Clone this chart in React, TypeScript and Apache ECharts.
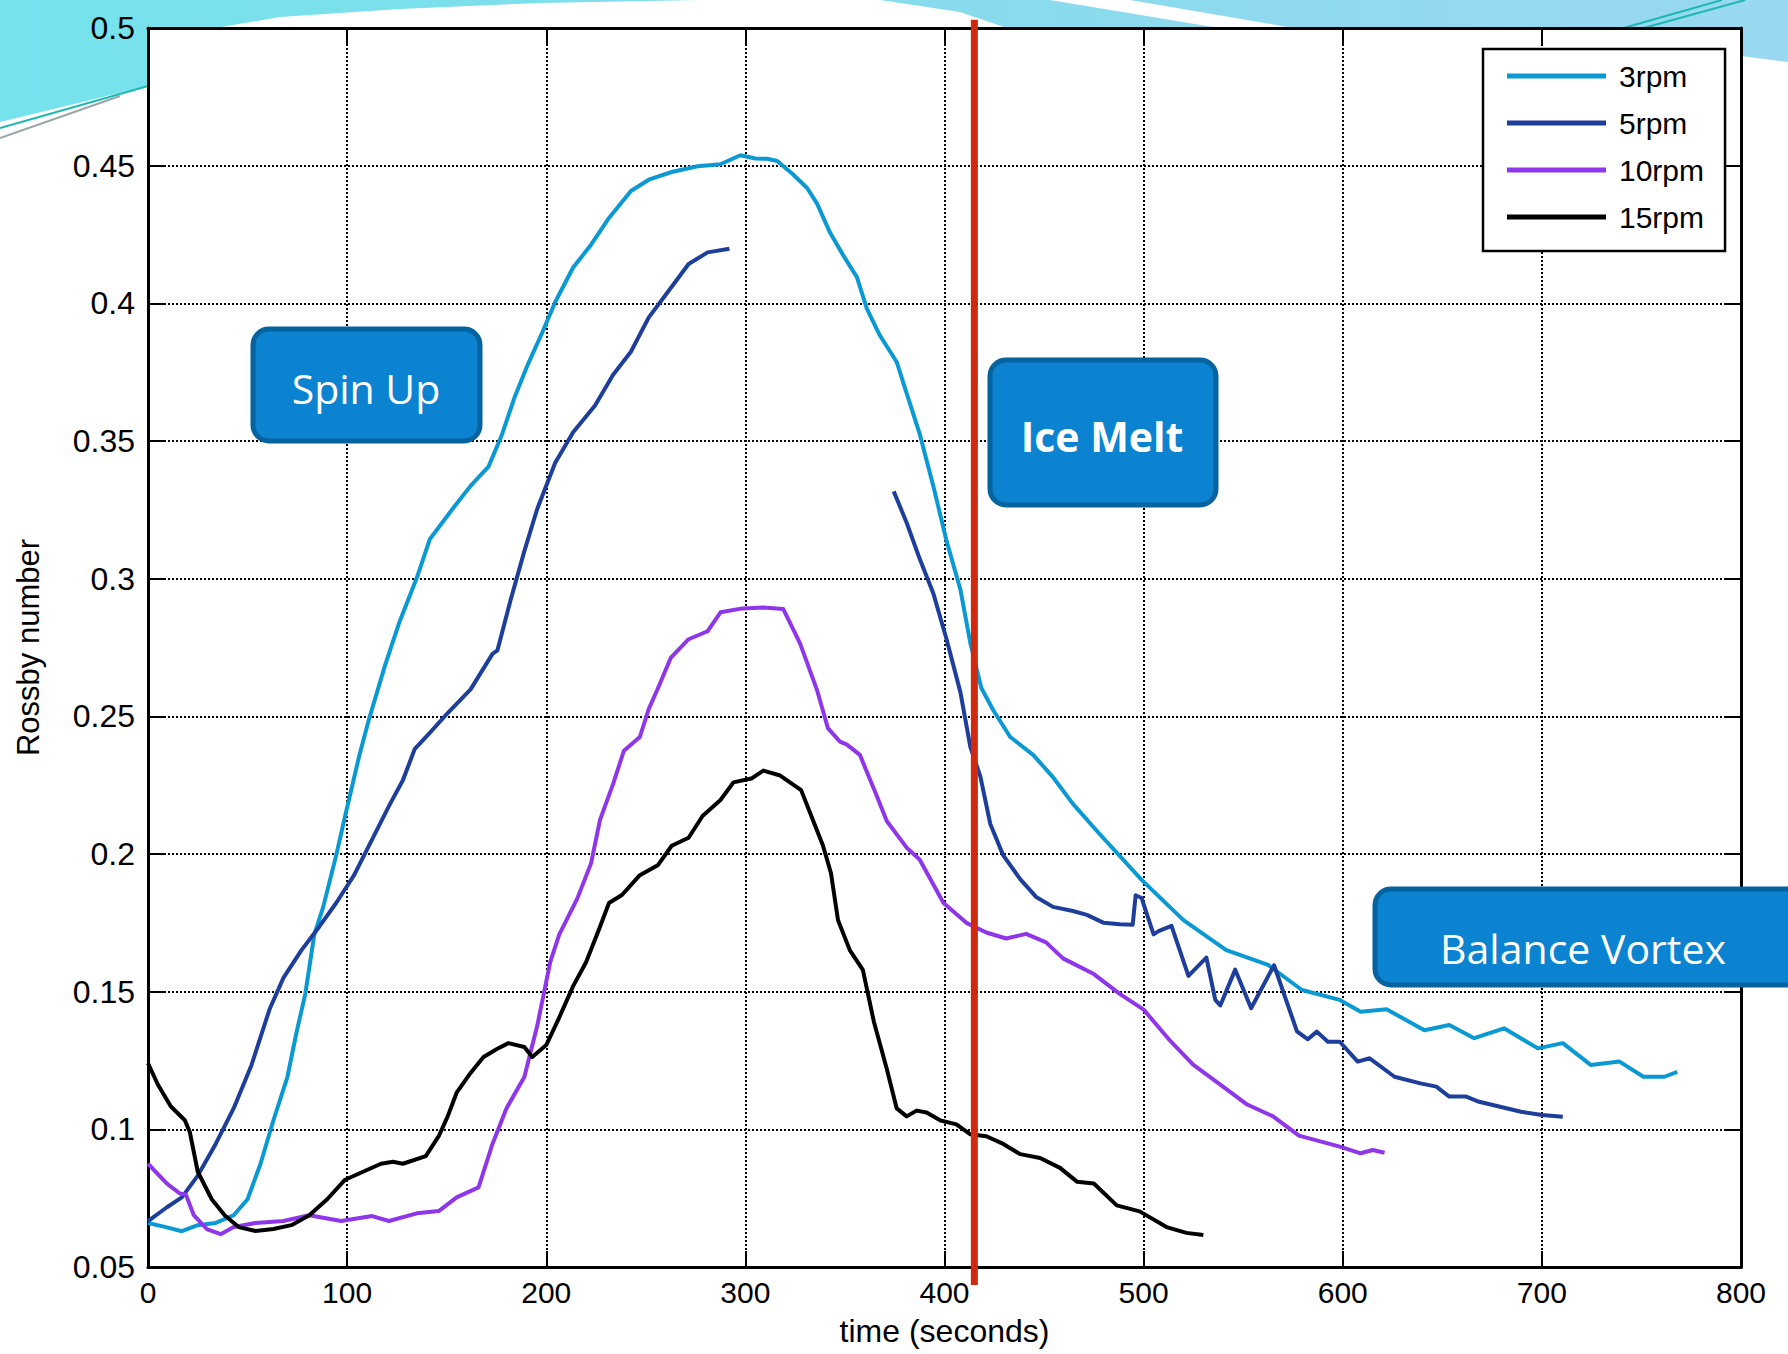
import React, { useEffect, useRef } from "react";
import * as echarts from "echarts";

const seriesNames = ["3rpm", "5rpm", "10rpm", "15rpm"];
const xTickValues = [0, 100, 200, 300, 400, 500, 600, 700, 800];
const iceMeltTime = 415;
const iceMeltSpan = [0.0435, 0.503];

const t3 = [0, 9, 17, 25, 34, 43, 50, 56.5, 63, 70, 74.5, 79, 83.5, 88, 94.5, 99, 106, 111, 119, 126, 135, 141.5, 153, 162, 171, 177.5, 184, 191, 198, 204.5, 213.5, 222.5, 231.5, 242.5, 251.5, 263, 276, 287.5, 297.5, 305, 311, 316, 324, 331, 336, 342.5, 349, 356, 361, 367.5, 376, 381, 387.5, 394.5, 401, 408, 413, 418.5, 424.5, 433, 444.5, 454.5, 464.5, 477, 499, 520, 541.5, 562.5, 579.5, 598.5, 609, 622, 641, 653.5, 666, 681, 698, 710.5, 724.5, 739, 751, 761.5, 768];
const v3 = [0.066, 0.0645, 0.063, 0.0652, 0.066, 0.0688, 0.0746, 0.0875, 0.1033, 0.119, 0.1349, 0.1492, 0.1707, 0.1808, 0.1995, 0.2138, 0.2354, 0.249, 0.2684, 0.2837, 0.3003, 0.3143, 0.3254, 0.3337, 0.3407, 0.3518, 0.3657, 0.3782, 0.3894, 0.4005, 0.413, 0.4213, 0.431, 0.4408, 0.4449, 0.4477, 0.4498, 0.4505, 0.4538, 0.4526, 0.4525, 0.4517, 0.4468, 0.4419, 0.4362, 0.4257, 0.4176, 0.4095, 0.3981, 0.3884, 0.3787, 0.3673, 0.3527, 0.3333, 0.3138, 0.296, 0.2765, 0.2603, 0.2522, 0.2425, 0.236, 0.2279, 0.2182, 0.208, 0.1906, 0.176, 0.1651, 0.1597, 0.1506, 0.147, 0.1427, 0.1436, 0.136, 0.1379, 0.1331, 0.1367, 0.1294, 0.1313, 0.1234, 0.1246, 0.1191, 0.1191, 0.1209];

const t5a = [0, 9.5, 17, 25, 34, 43, 52, 61, 68, 77, 86, 94.5, 103.5, 112.5, 121.5, 128, 134, 141.5, 150.5, 162, 173, 175.5, 182, 189, 195.5, 204.5, 213.5, 224.5, 233.5, 242.5, 251.5, 263, 271.5, 281, 292];
const v5a = [0.0667, 0.0717, 0.0753, 0.0832, 0.0947, 0.1076, 0.1234, 0.1435, 0.155, 0.165, 0.1736, 0.1822, 0.1923, 0.2052, 0.2181, 0.2268, 0.2382, 0.244, 0.2512, 0.2598, 0.2727, 0.274, 0.292, 0.31, 0.3254, 0.3421, 0.3532, 0.3629, 0.374, 0.3824, 0.3949, 0.406, 0.4143, 0.4185, 0.4198];

const t5b = [374.5, 381, 387.5, 394.5, 401, 408, 413, 418, 423, 429.5, 438, 446, 454.5, 464.5, 471.5, 480, 488, 494.5, 496, 499, 505, 507.5, 514, 522.5, 531.5, 536, 538.5, 546, 554, 565.5, 577, 582.5, 587, 592.5, 598.5, 607.5, 613.5, 626, 639, 647, 653.5, 662, 668.5, 679, 689.5, 700, 710.5];
const v5b = [0.3317, 0.3203, 0.3073, 0.2944, 0.2781, 0.2587, 0.2388, 0.2282, 0.2109, 0.1995, 0.1909, 0.1844, 0.1808, 0.1793, 0.1779, 0.175, 0.1745, 0.1743, 0.185, 0.184, 0.1708, 0.172, 0.1739, 0.1557, 0.1624, 0.147, 0.145, 0.158, 0.144, 0.1596, 0.1356, 0.1327, 0.1355, 0.1318, 0.1318, 0.1246, 0.1258, 0.1191, 0.1167, 0.1155, 0.1119, 0.1119, 0.11, 0.1082, 0.1064, 0.1052, 0.1046];

const t10 = [0, 9.5, 16, 19, 23, 29.5, 36.5, 43, 54, 68, 81, 97, 112.5, 121, 135, 146, 155, 166, 173, 180, 189, 195.5, 202, 206.5, 215.5, 222.5, 227, 233.5, 239, 247, 251.5, 256, 262.5, 271.5, 281, 287.5, 298.5, 309, 319, 327.5, 336, 341.5, 347.5, 351, 357.5, 364, 366, 371, 381, 387.5, 399.5, 411, 421, 431, 441, 451, 459.5, 475, 488, 500, 513.5, 525, 538.5, 552, 565, 578, 598.5, 609, 615, 621];
const v10 = [0.0875, 0.0803, 0.0767, 0.0763, 0.0688, 0.0638, 0.0619, 0.0645, 0.066, 0.0667, 0.0688, 0.0667, 0.0685, 0.0667, 0.0695, 0.0703, 0.0753, 0.0789, 0.0947, 0.1076, 0.119, 0.1377, 0.1607, 0.1707, 0.1837, 0.1966, 0.2124, 0.2253, 0.2375, 0.2425, 0.2527, 0.26, 0.2712, 0.278, 0.2809, 0.2878, 0.2892, 0.2895, 0.289, 0.2764, 0.2595, 0.2456, 0.2408, 0.2397, 0.236, 0.2246, 0.2211, 0.212, 0.2023, 0.198, 0.1822, 0.175, 0.1715, 0.1693, 0.171, 0.1679, 0.1621, 0.1564, 0.1492, 0.1435, 0.132, 0.1234, 0.1162, 0.109, 0.1047, 0.0977, 0.0937, 0.0913, 0.0925, 0.0915];

const t15 = [0, 5, 11.5, 18.5, 21, 25, 32, 38.5, 45.5, 54, 63, 72, 81, 90, 99, 108, 117, 123, 128, 139.5, 146, 150.5, 155, 162, 168.5, 175, 181, 189, 193, 200, 206.5, 213.5, 220, 227, 231.5, 238, 247, 256, 263, 271.5, 278.5, 287.5, 294, 303, 309, 317.5, 328, 339, 343, 346.5, 352.5, 359, 364.5, 371, 376, 381, 386, 391, 398, 406, 413, 421, 429.5, 438, 448, 458, 466.5, 475, 486.5, 498, 511.5, 521.5, 530];
const v15 = [0.124, 0.1162, 0.1083, 0.1033, 0.099, 0.0846, 0.0746, 0.0688, 0.0645, 0.0631, 0.0638, 0.0652, 0.0688, 0.0746, 0.0817, 0.0846, 0.0875, 0.0882, 0.0875, 0.0903, 0.0975, 0.1047, 0.1133, 0.1205, 0.1263, 0.1291, 0.1313, 0.1299, 0.1263, 0.1306, 0.1406, 0.152, 0.1607, 0.1736, 0.1822, 0.1851, 0.1923, 0.1959, 0.203, 0.2059, 0.2138, 0.2196, 0.226, 0.2274, 0.2303, 0.2285, 0.2232, 0.203, 0.193, 0.176, 0.165, 0.1579, 0.1392, 0.122, 0.1076, 0.1047, 0.1068, 0.1061, 0.1032, 0.1018, 0.0982, 0.0975, 0.0947, 0.091, 0.0896, 0.086, 0.081, 0.0803, 0.0724, 0.0702, 0.0645, 0.0624, 0.0616];

const pairs = (t: number[], v: number[]) => t.map((x, i) => [x, v[i]]);

const FONT = "'Liberation Sans', Arial, sans-serif";
const BOXFONT = "'Open Sans', 'Noto Sans', sans-serif";

export default function App() {
  const ref = useRef<HTMLDivElement>(null);
  useEffect(() => {
    document.body.style.margin = "0";
    const chart = echarts.init(ref.current!, null, { renderer: "svg" });
    const lineSeries = (name: string, data: number[][], color: string, width = 4) => ({
      name,
      type: "line",
      data,
      showSymbol: false,
      symbol: "none",
      lineStyle: { color, width, join: "round" },
      itemStyle: { color },
      z: 3,
    });
    const box = (x: number, y: number, w: number, h: number) => ({
      type: "rect",
      z: 50,
      shape: { x, y, width: w, height: h, r: 16 },
      style: { fill: "#0b83d0", stroke: "#05639f", lineWidth: 5 },
    });
    const boxText = (text: string, x: number, y: number, bold = false) => ({
      type: "text",
      z: 51,
      x,
      y,
      style: {
        text,
        fill: "#ffffff",
        font: `${bold ? "bold " : ""}41px ${BOXFONT}`,
        textAlign: "center",
        textVerticalAlign: "middle",
      },
    });
    const axisBase = {
      axisLine: { show: true, onZero: false, lineStyle: { color: "#000", width: 3 } },
      axisTick: { show: true, inside: true, length: 16, lineStyle: { color: "#000", width: 2 } },
    };
    const option: any = {
      animation: false,
      backgroundColor: "#ffffff",
      grid: {
        left: 148,
        right: 47,
        top: 28,
        bottom: 87,
        show: true,
        backgroundColor: "#ffffff",
        borderWidth: 0,
      },
      legend: {
        data: seriesNames,
        orient: "vertical",
        left: 1483,
        top: 49,
        backgroundColor: "#ffffff",
        borderColor: "#000000",
        borderWidth: 2.5,
        borderRadius: 0,
        padding: [12, 21, 19, 24],
        itemGap: 17,
        itemWidth: 99,
        itemHeight: 5,
        icon: "rect",
        textStyle: { fontFamily: FONT, fontSize: 30, lineHeight: 30, color: "#000", padding: [0, 0, 0, 8] },
        z: 20,
      },
      graphic: [
        {
          type: "polygon",
          z: -100,
          shape: { points: [[0, 0], [1788, 0], [1788, 62], [1741, 56], [1741, 29], [148, 29], [148, 86], [0, 122]] },
          style: {
            fill: new echarts.graphic.LinearGradient(0, 0, 1, 0, [
              { offset: 0, color: "#74e3ec" },
              { offset: 0.5, color: "#86dbec" },
              { offset: 1, color: "#9ad8f2" },
            ]),
          },
        },
        {
          type: "polygon",
          z: -99,
          shape: { points: [[210, 29], [280, 17], [400, 9], [540, 3], [700, 0], [880, 0], [960, 12], [1010, 29]] },
          style: { fill: "#ffffff" },
        },
        {
          type: "polygon",
          z: -99,
          shape: { points: [[1050, 0], [1130, 0], [1300, 29], [1225, 29]] },
          style: { fill: "#ffffff" },
        },
        { type: "polyline", z: -98, shape: { points: [[0, 128], [148, 86]] }, style: { stroke: "#1bb9b2", lineWidth: 2 } },
        { type: "polyline", z: -98, shape: { points: [[0, 138], [120, 96]] }, style: { stroke: "#9aa5a8", lineWidth: 2 } },
        { type: "polyline", z: -98, shape: { points: [[1620, 29], [1722, 0]] }, style: { stroke: "#1bb9b2", lineWidth: 2 } },
        { type: "polyline", z: -98, shape: { points: [[1640, 29], [1745, 0]] }, style: { stroke: "#1bb9b2", lineWidth: 2 } },
        box(253, 329, 227, 112),
        boxText("Spin Up", 366, 388),
        box(990, 360, 226, 145),
        boxText("Ice Melt", 1102, 436, true),
        box(1375, 889, 430, 96),
        boxText("Balance Vortex", 1583, 948),
      ],
      xAxis: [
        {
          type: "value",
          min: xTickValues[0],
          max: xTickValues[xTickValues.length - 1],
          interval: 100,
          position: "bottom",
          name: "time (seconds)",
          nameLocation: "middle",
          nameGap: 48,
          nameTextStyle: { fontFamily: FONT, fontSize: 32, color: "#000" },
          ...axisBase,
          axisLabel: { fontFamily: FONT, fontSize: 30, color: "#000", margin: 10 },
          splitLine: { show: true, lineStyle: { color: "#000", type: "dotted", width: 2 } },
        },
        {
          type: "value",
          min: 0,
          max: 800,
          interval: 100,
          position: "top",
          ...axisBase,
          axisLabel: { show: false },
          splitLine: { show: false },
        },
      ],
      yAxis: [
        {
          type: "value",
          min: 0.05,
          max: 0.5,
          interval: 0.05,
          position: "left",
          name: "Rossby number",
          nameLocation: "middle",
          nameGap: 104,
          nameTextStyle: { fontFamily: FONT, fontSize: 31, color: "#000" },
          ...axisBase,
          axisLabel: { fontFamily: FONT, fontSize: 32, color: "#000", margin: 13 },
          splitLine: { show: true, lineStyle: { color: "#000", type: "dotted", width: 2 } },
        },
        {
          type: "value",
          min: 0.05,
          max: 0.5,
          interval: 0.05,
          position: "right",
          ...axisBase,
          axisLabel: { show: false },
          splitLine: { show: false },
        },
      ],
      series: [
        lineSeries(seriesNames[0], pairs(t3, v3), "#0a99d2"),
        lineSeries(seriesNames[1], pairs(t5a, v5a), "#1e3e9c"),
        lineSeries(seriesNames[1], pairs(t5b, v5b), "#1e3e9c"),
        lineSeries(seriesNames[2], pairs(t10, v10), "#9036ea"),
        lineSeries(seriesNames[3], pairs(t15, v15), "#000000"),
        {
          name: "Ice Melt",
          type: "line",
          data: iceMeltSpan.map((v) => [iceMeltTime, v]),
          clip: false,
          showSymbol: false,
          symbol: "none",
          silent: true,
          lineStyle: { color: "#cf2a0e", width: 7 },
          z: 10,
        },
      ],
    };
    chart.setOption(option);
    return () => chart.dispose();
  }, []);
  return <div ref={ref} style={{ width: 1788, height: 1354 }} />;
}
